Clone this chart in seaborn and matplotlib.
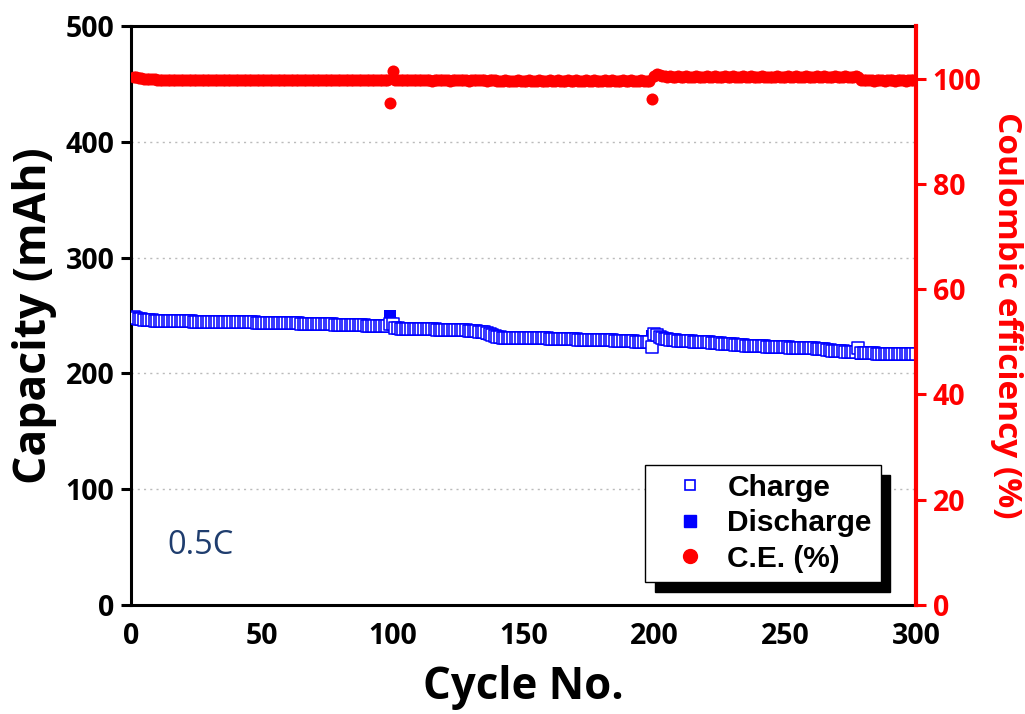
import numpy as np
import pandas as pd
import matplotlib
matplotlib.use("Agg")
import matplotlib.pyplot as plt
from matplotlib.lines import Line2D
import seaborn as sns

cycles = list(range(1, 301))

charge = [
    248.5, 247.9, 247.3, 246.8, 246.4, 246.1, 245.9, 245.7, 245.6, 245.5,
    245.4, 245.4, 245.3, 245.3, 245.2, 245.2, 245.1, 245.1, 245.0, 245.0,
    244.9, 244.9, 244.9, 244.8, 244.8, 244.8, 244.7, 244.7, 244.7, 244.6,
    244.6, 244.6, 244.5, 244.5, 244.5, 244.4, 244.4, 244.4, 244.3, 244.3,
    244.3, 244.2, 244.2, 244.1, 244.1, 244.0, 244.0, 243.9, 243.9, 243.8,
    243.8, 243.7, 243.7, 243.6, 243.6, 243.5, 243.5, 243.4, 243.4, 243.3,
    243.2, 243.2, 243.1, 243.1, 243.0, 243.0, 242.9, 242.8, 242.8, 242.7,
    242.7, 242.6, 242.5, 242.5, 242.4, 242.3, 242.3, 242.2, 242.1, 242.1,
    242.0, 241.9, 241.9, 241.8, 241.7, 241.6, 241.6, 241.5, 241.4, 241.3,
    241.3, 241.2, 241.1, 241.0, 240.9, 240.9, 240.8, 240.7, 243.0, 242.6,
    239.6, 238.9, 238.6, 238.5, 238.4, 238.4, 238.3, 238.3, 238.2, 238.2,
    238.1, 238.1, 238.0, 238.0, 237.9, 237.9, 237.8, 237.8, 237.7, 237.7,
    237.6, 237.6, 237.5, 237.4, 237.4, 237.3, 237.2, 237.1, 237.0, 236.8,
    236.6, 236.4, 236.1, 235.8, 235.4, 234.9, 234.2, 233.5, 232.6, 231.8,
    231.2, 230.9, 230.8, 230.7, 230.7, 230.6, 230.6, 230.6, 230.5, 230.5,
    230.5, 230.4, 230.4, 230.4, 230.3, 230.3, 230.3, 230.2, 230.2, 230.1,
    230.1, 230.0, 230.0, 229.9, 229.8, 229.7, 229.6, 229.5, 229.4, 229.3,
    229.2, 229.1, 229.0, 229.0, 228.9, 228.9, 228.8, 228.8, 228.7, 228.7,
    228.6, 228.5, 228.5, 228.4, 228.3, 228.2, 228.1, 228.0, 227.9, 227.8,
    227.7, 227.6, 227.5, 227.4, 227.3, 227.2, 227.1, 227.0, 222.8, 234.0,
    233.0, 231.8, 230.8, 230.0, 229.4, 228.9, 228.6, 228.4, 228.2, 228.0,
    227.9, 227.8, 227.7, 227.6, 227.5, 227.4, 227.3, 227.2, 227.1, 227.0,
    226.8, 226.6, 226.4, 226.2, 226.0, 225.8, 225.6, 225.4, 225.2, 225.0,
    224.8, 224.6, 224.4, 224.2, 224.0, 223.9, 223.8, 223.7, 223.6, 223.5,
    223.4, 223.3, 223.2, 223.1, 223.0, 222.9, 222.8, 222.7, 222.6, 222.5,
    222.4, 222.3, 222.2, 222.1, 222.0, 221.9, 221.8, 221.7, 221.6, 221.6,
    221.5, 221.4, 221.3, 221.2, 221.0, 220.6, 220.0, 219.5, 219.2, 219.0,
    218.9, 218.9, 218.8, 218.8, 218.7, 218.7, 218.6, 222.1, 217.6, 217.4,
    217.3, 217.3, 217.2, 217.2, 217.1, 217.1, 217.0, 217.0, 217.0, 216.9,
    216.9, 216.9, 216.8, 216.8, 216.8, 216.7, 216.7, 216.7, 216.6, 216.6,
]

discharge = [
    247.9, 247.3, 246.8, 246.3, 245.9, 245.6, 245.4, 245.2, 245.1, 245.0,
    244.9, 244.9, 244.8, 244.8, 244.7, 244.7, 244.6, 244.6, 244.5, 244.5,
    244.4, 244.4, 244.4, 244.3, 244.3, 244.3, 244.2, 244.2, 244.2, 244.1,
    244.1, 244.1, 244.0, 244.0, 244.0, 243.9, 243.9, 243.9, 243.8, 243.8,
    243.8, 243.7, 243.7, 243.6, 243.6, 243.5, 243.5, 243.4, 243.4, 243.3,
    243.3, 243.2, 243.2, 243.1, 243.1, 243.0, 243.0, 242.9, 242.9, 242.8,
    242.7, 242.7, 242.6, 242.6, 242.5, 242.5, 242.4, 242.3, 242.3, 242.2,
    242.2, 242.1, 242.0, 242.0, 241.9, 241.8, 241.8, 241.7, 241.6, 241.6,
    241.5, 241.4, 241.4, 241.3, 241.2, 241.1, 241.1, 241.0, 240.9, 240.8,
    240.8, 240.7, 240.6, 240.5, 240.4, 240.4, 240.3, 240.2, 249.6, 241.5,
    239.1, 238.4, 238.1, 238.0, 237.9, 237.9, 237.8, 237.8, 237.7, 237.7,
    237.6, 237.6, 237.5, 237.5, 237.4, 237.4, 237.3, 237.3, 237.2, 237.2,
    237.1, 237.1, 237.0, 236.9, 236.9, 236.8, 236.7, 236.6, 236.5, 236.3,
    236.1, 235.9, 235.6, 235.3, 234.9, 234.4, 233.7, 233.0, 232.1, 231.3,
    230.7, 230.4, 230.3, 230.2, 230.2, 230.1, 230.1, 230.1, 230.0, 230.0,
    230.0, 229.9, 229.9, 229.9, 229.8, 229.8, 229.8, 229.7, 229.7, 229.6,
    229.6, 229.5, 229.5, 229.4, 229.3, 229.2, 229.1, 229.0, 228.9, 228.8,
    228.7, 228.6, 228.5, 228.5, 228.4, 228.4, 228.3, 228.3, 228.2, 228.2,
    228.1, 228.0, 228.0, 227.9, 227.8, 227.7, 227.6, 227.5, 227.4, 227.3,
    227.2, 227.1, 227.0, 226.9, 226.8, 226.7, 226.6, 226.5, 232.6, 233.6,
    232.6, 231.4, 230.4, 229.6, 229.0, 228.5, 228.2, 228.0, 227.8, 227.6,
    227.5, 227.4, 227.3, 227.2, 227.1, 227.0, 226.9, 226.8, 226.7, 226.6,
    226.4, 226.2, 226.0, 225.8, 225.6, 225.4, 225.2, 225.0, 224.8, 224.6,
    224.4, 224.2, 224.0, 223.8, 223.6, 223.5, 223.4, 223.3, 223.2, 223.1,
    223.0, 222.9, 222.8, 222.7, 222.6, 222.5, 222.4, 222.3, 222.2, 222.1,
    222.0, 221.9, 221.8, 221.7, 221.6, 221.5, 221.4, 221.3, 221.2, 221.2,
    221.1, 221.0, 220.9, 220.8, 220.6, 220.2, 219.6, 219.1, 218.8, 218.6,
    218.5, 218.5, 218.4, 218.4, 218.3, 218.3, 218.2, 218.5, 217.0, 216.8,
    216.7, 216.7, 216.6, 216.6, 216.5, 216.5, 216.4, 216.4, 216.4, 216.3,
    216.3, 216.3, 216.2, 216.2, 216.2, 216.1, 216.1, 216.1, 216.0, 216.0,
]

ce = [
    100.4, 100.3, 100.2, 100.1, 100.0, 100.0, 99.9, 99.9, 99.9, 99.8,
    99.8, 99.8, 99.7, 99.8, 99.8, 99.7, 99.8, 99.7, 99.8, 99.8,
    99.7, 99.8, 99.7, 99.7, 99.8, 99.7, 99.8, 99.7, 99.7, 99.8,
    99.7, 99.7, 99.8, 99.7, 99.7, 99.8, 99.7, 99.7, 99.8, 99.7,
    99.8, 99.7, 99.7, 99.7, 99.8, 99.7, 99.7, 99.8, 99.7, 99.7,
    99.7, 99.8, 99.7, 99.7, 99.7, 99.8, 99.7, 99.7, 99.7, 99.8,
    99.7, 99.7, 99.8, 99.7, 99.7, 99.7, 99.8, 99.7, 99.7, 99.7,
    99.8, 99.7, 99.7, 99.7, 99.8, 99.7, 99.7, 99.7, 99.7, 99.8,
    99.7, 99.7, 99.7, 99.8, 99.7, 99.7, 99.7, 99.8, 99.7, 99.7,
    99.7, 99.8, 99.7, 99.7, 99.8, 99.7, 99.7, 99.8, 95.4, 101.5,
    99.8, 99.7, 99.7, 99.8, 99.7, 99.7, 99.7, 99.8, 99.7, 99.7,
    99.7, 99.8, 99.7, 99.7, 99.6, 99.7, 99.7, 99.8, 99.7, 99.7,
    99.7, 99.6, 99.7, 99.7, 99.7, 99.8, 99.7, 99.7, 99.6, 99.7,
    99.7, 99.7, 99.7, 99.8, 99.7, 99.6, 99.7, 99.7, 99.7, 99.6,
    99.6, 99.6, 99.7, 99.6, 99.5, 99.6, 99.6, 99.7, 99.6, 99.6,
    99.6, 99.7, 99.6, 99.6, 99.6, 99.7, 99.6, 99.6, 99.6, 99.7,
    99.6, 99.6, 99.7, 99.6, 99.6, 99.6, 99.7, 99.6, 99.6, 99.7,
    99.6, 99.6, 99.6, 99.7, 99.6, 99.6, 99.7, 99.6, 99.6, 99.6,
    99.7, 99.6, 99.6, 99.7, 99.6, 99.6, 99.6, 99.7, 99.6, 99.6,
    99.7, 99.6, 99.6, 99.6, 99.7, 99.6, 99.6, 99.6, 96.1, 100.5,
    100.8, 100.6, 100.5, 100.5, 100.4, 100.5, 100.4, 100.4, 100.5, 100.4,
    100.4, 100.5, 100.4, 100.4, 100.4, 100.5, 100.4, 100.4, 100.4, 100.5,
    100.4, 100.4, 100.5, 100.4, 100.4, 100.4, 100.5, 100.4, 100.4, 100.5,
    100.4, 100.4, 100.4, 100.5, 100.4, 100.4, 100.5, 100.4, 100.4, 100.4,
    100.5, 100.4, 100.4, 100.3, 100.4, 100.4, 100.5, 100.4, 100.4, 100.4,
    100.5, 100.4, 100.4, 100.5, 100.4, 100.4, 100.4, 100.5, 100.4, 100.4,
    100.4, 100.5, 100.4, 100.4, 100.5, 100.4, 100.4, 100.4, 100.5, 100.4,
    100.4, 100.4, 100.5, 100.4, 100.4, 100.4, 100.5, 100.3, 99.8, 99.7,
    99.7, 99.7, 99.7, 99.6, 99.7, 99.7, 99.7, 99.6, 99.7, 99.7,
    99.7, 99.6, 99.7, 99.7, 99.7, 99.6, 99.7, 99.7, 99.7, 99.7,
]

x_ticks = [0, 50, 100, 150, 200, 250, 300]
cap_ticks = [0, 100, 200, 300, 400, 500]
ce_ticks = [0, 20, 40, 60, 80, 100]
legend_labels = ["Charge", "Discharge", "C.E. (%)"]
rate_label = "0.5C"

sns.set_theme(style="white")
MAIN_FONT = ["Open Sans", "Noto Sans CJK KR", "DejaVu Sans"]
plt.rcParams["font.family"] = MAIN_FONT
plt.rcParams["text.color"] = "black"
plt.rcParams["axes.labelcolor"] = "black"

df = pd.DataFrame({"cycle": cycles, "charge": charge,
                   "discharge": discharge, "ce": ce})

fig = plt.figure(figsize=(10.25, 7.14), dpi=100)
ax = fig.add_axes([0.1278, 0.1527, 0.7659, 0.8109])

sns.scatterplot(data=df, x="cycle", y="discharge", ax=ax, marker="s",
                s=85, color="#0000ff", linewidth=0, zorder=3)
sns.scatterplot(data=df, x="cycle", y="charge", ax=ax, marker="s",
                s=85, color="#0000ff", linewidth=1.1, zorder=4)
coll = ax.collections[-1]
coll.set_facecolor("white")
coll.set_edgecolor("#0000ff")

ax.set_xlim(0, 300)
ax.set_ylim(0, 500)
ax.set_xticks(x_ticks)
ax.set_yticks(cap_ticks)
ax.yaxis.grid(True, linestyle=(0, (1.5, 3)), color="#bbbbbb", linewidth=1)
ax.xaxis.grid(False)
ax.set_axisbelow(True)

ax.set_xlabel("Cycle No.", fontsize=31.5, fontweight="bold", color="black",
              labelpad=10)
ax.set_ylabel("Capacity (mAh)", fontsize=32, fontweight="bold",
              color="black", labelpad=6)
ax.tick_params(axis="both", direction="out", length=7, width=2.2,
               labelsize=20.5, colors="black", labelcolor="black", pad=5)
for lab in ax.get_xticklabels() + ax.get_yticklabels():
    lab.set_fontweight("bold")
for side in ["left", "bottom", "top"]:
    ax.spines[side].set_color("black")
    ax.spines[side].set_linewidth(2.2)
ax.spines["right"].set_visible(False)

ax.text(14, 51, rate_label, fontsize=23.5, color="#1f3d6e", ha="left",
        va="center")

ax2 = ax.twinx()
sns.scatterplot(data=df, x="cycle", y="ce", ax=ax2, marker="o", s=75,
                color="#ff0000", linewidth=0, zorder=3)
ax2.set_ylim(0, 110)
ax2.set_yticks(ce_ticks)
ax2.set_ylabel("Coulombic efficiency (%)", fontsize=24, fontweight="bold",
               color="#ff0000", rotation=270, labelpad=30)
ax2.tick_params(axis="y", direction="out", length=7, width=2.2,
                labelsize=20.5, colors="#ff0000", pad=5)
for lab in ax2.get_yticklabels():
    lab.set_fontweight("bold")
ax2.spines["right"].set_color("#ff0000")
ax2.spines["right"].set_linewidth(3)
for side in ["left", "bottom", "top"]:
    ax2.spines[side].set_visible(False)
ax2.grid(False)

handles = [
    Line2D([], [], linestyle="none", marker="s", markersize=7.5,
           markerfacecolor="white", markeredgecolor="#0000ff",
           markeredgewidth=1.2),
    Line2D([], [], linestyle="none", marker="s", markersize=8.5,
           markerfacecolor="#0000ff", markeredgecolor="#0000ff"),
    Line2D([], [], linestyle="none", marker="o", markersize=10,
           markerfacecolor="#ff0000", markeredgecolor="#ff0000"),
]
leg = ax2.legend(handles, legend_labels, loc="lower right",
                 bbox_to_anchor=(0.955, 0.04), frameon=True, fancybox=False,
                 edgecolor="black", framealpha=1,
                 shadow={"ox": 7, "oy": -7, "color": "black", "alpha": 1},
                 prop={"family": ["Liberation Sans", "DejaVu Sans"],
                       "weight": "bold", "size": 21.5},
                 labelspacing=0.25, handlelength=2.4, handletextpad=0.05,
                 borderpad=0.3, borderaxespad=0)
leg.get_frame().set_linewidth(1.0)

fig.savefig("out.png", dpi=100)
